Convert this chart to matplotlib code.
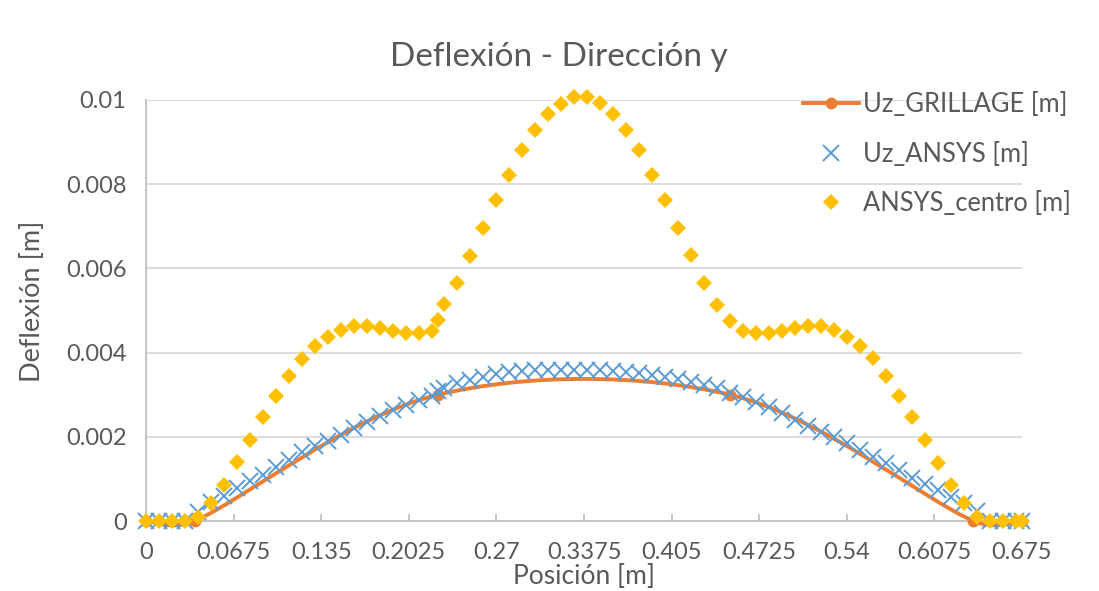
import matplotlib
matplotlib.use("Agg")
import matplotlib.pyplot as plt
from matplotlib.path import Path
from matplotlib.patches import PathPatch
from matplotlib.lines import Line2D
import numpy as np

# ---- data -------------------------------------------------------------
# Grillage model nodes (smoothed line)
grillage_x = [0.0, 0.0375, 0.225, 0.45, 0.6375, 0.675]
grillage_uz = [0.0, 0.0, 0.0030, 0.0030, 0.0, 0.0]

# ANSYS sampling positions along the section
ansys_x = [0.00, 0.01, 0.02, 0.03, 0.04, 0.05, 0.06, 0.07, 0.08, 0.09,
           0.10, 0.11, 0.12, 0.13, 0.14, 0.15, 0.16, 0.17, 0.18, 0.19,
           0.20, 0.21, 0.22, 0.225, 0.23, 0.24, 0.25, 0.26, 0.27, 0.28,
           0.29, 0.30, 0.31, 0.32, 0.33, 0.34, 0.35, 0.36, 0.37, 0.38,
           0.39, 0.40, 0.41, 0.42, 0.43, 0.44, 0.45, 0.46, 0.47, 0.48,
           0.49, 0.50, 0.51, 0.52, 0.53, 0.54, 0.55, 0.56, 0.57, 0.58,
           0.59, 0.60, 0.61, 0.62, 0.63, 0.64, 0.65, 0.66, 0.67, 0.675]

# Uz along the ANSYS edge line [m]
ansys_uz = [0.0, 0.0, 0.0, 0.0, 0.00022, 0.00044, 0.00060, 0.00078, 0.00094, 0.00110,
            0.00128, 0.00145, 0.00163, 0.00178, 0.00190, 0.00204, 0.00220, 0.00235, 0.00250, 0.00263,
            0.00275, 0.00287, 0.00298, 0.00308, 0.00315, 0.00327, 0.00336, 0.00343, 0.00349, 0.00354,
            0.00357, 0.00359, 0.00359, 0.00359, 0.00359, 0.00359, 0.00358, 0.00357, 0.00355, 0.00352,
            0.00347, 0.00342, 0.00337, 0.00331, 0.00324, 0.00315, 0.00305, 0.00295, 0.00283, 0.00271,
            0.00256, 0.00240, 0.00225, 0.00212, 0.00200, 0.00185, 0.00169, 0.00153, 0.00137, 0.00121,
            0.00103, 0.00087, 0.00074, 0.00058, 0.00042, 0.00024, 0.0, 0.0, 0.0, 0.0]

# Uz along the ANSYS centre line [m]
centro_uz = [0.0, 0.0, 0.0, 0.0, 0.00010, 0.00042, 0.00086, 0.00141, 0.00192, 0.00248,
             0.00297, 0.00344, 0.00384, 0.00416, 0.00438, 0.00454, 0.00462, 0.00462, 0.00458, 0.00452,
             0.00446, 0.00446, 0.00452, 0.00478, 0.00515, 0.00566, 0.00630, 0.00695, 0.00762, 0.00823,
             0.00881, 0.00929, 0.00966, 0.00990, 0.01006, 0.01006, 0.00992, 0.00966, 0.00929, 0.00881,
             0.00823, 0.00762, 0.00697, 0.00631, 0.00566, 0.00513, 0.00476, 0.00452, 0.00446, 0.00446,
             0.00452, 0.00458, 0.00462, 0.00462, 0.00454, 0.00438, 0.00416, 0.00386, 0.00344, 0.00297,
             0.00248, 0.00192, 0.00138, 0.00086, 0.00042, 0.00010, 0.0, 0.0, 0.0, 0.0]

x_ticks = [0, 0.0675, 0.135, 0.2025, 0.27, 0.3375, 0.405, 0.4725, 0.54, 0.6075, 0.675]
x_ticklabels = ["0", "0.0675", "0.135", "0.2025", "0.27", "0.3375", "0.405",
                "0.4725", "0.54", "0.6075", "0.675"]
y_ticks = [0, 0.002, 0.004, 0.006, 0.008, 0.01]
y_ticklabels = ["0", "0.002", "0.004", "0.006", "0.008", "0.01"]

labels = ["Uz_GRILLAGE [m]", "Uz_ANSYS [m]", "ANSYS_centro [m]"]
title = "Deflexión - Dirección y"
xlabel = "Posición [m]"
ylabel = "Deflexión [m]"

# ---- style ------------------------------------------------------------
C_ORANGE = "#ED7D31"
C_BLUE = "#5B9BD5"
C_GOLD = "#FFC000"
C_TEXT = "#595959"
C_GRID = "#D9D9D9"
C_AXIS = "#BFBFBF"

plt.rcParams["font.family"] = ["Lato", "DejaVu Sans"]

W, H = 1099, 591


def smooth_path(ax, xs, ys):
    """Spreadsheet-style smoothed line: cubic Bezier segments whose control
    arms are limited to half the segment length (measured on screen)."""
    pts = np.column_stack([xs, ys]).astype(float)
    disp = ax.transData.transform(pts)
    n = len(pts)

    def dist(i, j):
        return float(np.hypot(*(disp[j] - disp[i])))

    verts = [pts[0]]
    codes = [Path.MOVETO]
    for i in range(n - 1):
        a = i - 1 if i > 0 else i
        d = i + 2 if i + 2 < n else i + 1
        d12 = dist(i, i + 1)
        d02 = dist(a, i + 1)
        d13 = dist(i, d)
        f0 = 1 / 6 if d02 / 6 < d12 / 2 else (d12 / 2 / d02 if d02 > 0 else 0)
        f1 = 1 / 6 if d13 / 6 < d12 / 2 else (d12 / 2 / d13 if d13 > 0 else 0)
        c1 = pts[i] + (pts[i + 1] - pts[a]) * f0
        c2 = pts[i + 1] - (pts[d] - pts[i]) * f1
        verts += [c1, c2, pts[i + 1]]
        codes += [Path.CURVE4] * 3
    return Path(verts, codes)


fig = plt.figure(figsize=(W / 100, H / 100), dpi=100)
ax = fig.add_axes([146 / W, (H - 521) / H, 876 / W, 421 / H])

ax.set_xlim(0, 0.675)
ax.set_ylim(0, 0.01)

# horizontal gridlines
for yv in y_ticks[1:]:
    ax.axhline(yv, color=C_GRID, lw=1.3, zorder=0)

# grillage: smoothed line plus node markers
ax.add_patch(PathPatch(smooth_path(ax, grillage_x, grillage_uz), facecolor="none",
                       edgecolor=C_ORANGE, lw=2.8, capstyle="round", zorder=2,
                       clip_on=False))
ax.plot(grillage_x, grillage_uz, ls="none", marker="o", ms=7.5, color=C_ORANGE,
        zorder=2, clip_on=False)

ax.plot(ansys_x, ansys_uz, ls="none", marker="x", ms=11, mew=1.4, color=C_BLUE,
        zorder=3, clip_on=False)
ax.plot(ansys_x, centro_uz, ls="none", marker="D", ms=8.5, mew=0, color=C_GOLD,
        zorder=4, clip_on=False)

# axes
for side in ["top", "right"]:
    ax.spines[side].set_visible(False)
for side in ["left", "bottom"]:
    ax.spines[side].set_color(C_AXIS)
    ax.spines[side].set_linewidth(1.3)
    ax.spines[side].set_zorder(1)

ax.set_xticks(x_ticks)
ax.set_xticklabels(x_ticklabels)
ax.set_yticks(y_ticks)
ax.set_yticklabels(y_ticklabels)
ax.tick_params(axis="x", direction="in", length=5, width=1.3, color=C_AXIS,
               labelsize=17, labelcolor=C_TEXT, pad=15)
ax.tick_params(axis="y", length=0, labelsize=17, labelcolor=C_TEXT, pad=14)

# titles placed in figure pixels
fig.text(559 / W, 1 - 57 / H, title, fontsize=24, fontweight="normal",
         color=C_TEXT, ha="center", va="center")
fig.text(584 / W, 1 - 576 / H, xlabel, fontsize=19, color=C_TEXT,
         ha="center", va="center")
fig.text(33 / W, 1 - 301 / H, ylabel, fontsize=19.5, color=C_TEXT,
         ha="center", va="center", rotation=90)

handles = [
    Line2D([], [], color=C_ORANGE, lw=2.8, marker="o", ms=7.5),
    Line2D([], [], ls="none", marker="x", ms=11, mew=1.4, color=C_BLUE),
    Line2D([], [], ls="none", marker="D", ms=8.5, mew=0, color=C_GOLD),
]
leg = fig.legend(handles, labels, loc="upper left",
                 bbox_to_anchor=(793 / W, 1 - 82 / H), frameon=False,
                 fontsize=18.4, labelcolor=C_TEXT, handlelength=2.2,
                 handletextpad=0.15, labelspacing=0.95, borderaxespad=0)

fig.savefig("out.png", dpi=100)
